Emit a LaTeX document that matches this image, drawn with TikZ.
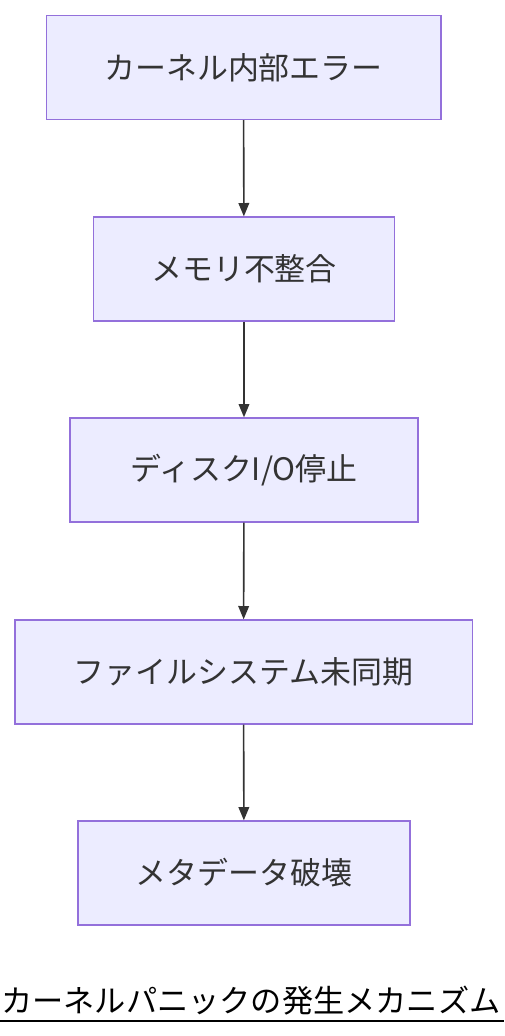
\documentclass[tikz,border=0pt]{standalone}
\usepackage{fontspec}
\setmainfont{Noto Sans CJK JP}
\usetikzlibrary{arrows.meta}
\definecolor{boxfill}{HTML}{ECECFF}
\definecolor{boxline}{HTML}{9370DB}
\definecolor{ink}{HTML}{333333}

\begin{document}
\begin{tikzpicture}[x=0.75pt,y=-0.75pt,
    stage/.style={rectangle,draw=boxline,fill=boxfill,line width=1pt,
        minimum height=78pt,inner sep=0pt,text=ink,font=\fontsize{23.2}{27}\selectfont},
    flow/.style={-{Triangle[length=10pt,width=8pt]},draw=ink,line width=1.2pt}]
        \useasboundingbox (0,0) rectangle (504,1036);

        % 各段階のノード
        \node[stage,minimum width=296pt] (kernel) at (243.5,67.5) {カーネル内部エラー};
        \node[stage,minimum width=226pt] (memory) at (244,269) {メモリ不整合};
        \node[stage,minimum width=261pt] (diskio) at (244,470) {ディスクI/O停止};
        \node[stage,minimum width=343pt] (fssync) at (243.5,672) {ファイルシステム未同期};
        \node[stage,minimum width=249pt] (metadata) at (244,873) {メタデータ破壊};

        % 矢印
        \draw[flow] (kernel) -- (memory);
        \draw[flow] (memory) -- (diskio);
        \draw[flow] (diskio) -- (fssync);
        \draw[flow] (fssync) -- (metadata);

        % タイトル
        \node[anchor=base west,inner sep=0pt,font=\fontsize{23.4}{28}\selectfont] (title) at (1,1012) {カーネルパニックの発生メカニズム};
        \draw[line width=1.5pt] (0,1021) -- (504,1021);
    \end{tikzpicture}
\end{document}
